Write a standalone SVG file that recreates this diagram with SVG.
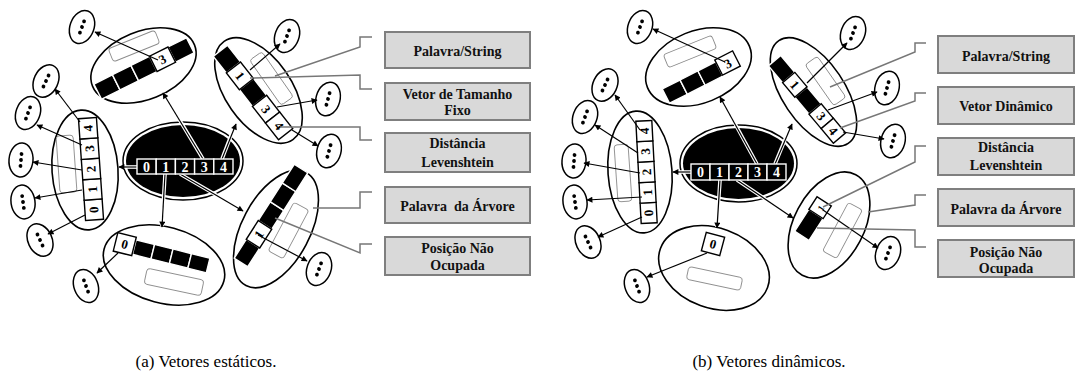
<svg xmlns="http://www.w3.org/2000/svg" xmlns:xlink="http://www.w3.org/1999/xlink" width="1076" height="385" viewBox="0 0 1076 385">
<style>
.ell{fill:#fff;stroke:#000;stroke-width:1.6}
.bk{fill:#000;stroke:#fff;stroke-width:1.4}
.wb{fill:#fff;stroke:#000;stroke-width:1.4}
.gr{fill:#fff;stroke:#8c8c8c;stroke-width:0.9}
.num{font-family:"Liberation Serif",serif;font-weight:bold;font-size:13px;text-anchor:middle}
.cnum{font-family:"Liberation Serif",serif;font-weight:bold;font-size:14px;text-anchor:middle;fill:#fff}
.cn{fill:none;stroke:#000;stroke-width:1.2;marker-end:url(#ah)}
.halo{fill:none;stroke:#fff;stroke-width:3.6}
.call{fill:none;stroke:#777;stroke-width:1.5}
.lab{fill:#d9d9d9;stroke:#7f7f7f;stroke-width:2}
.lt{font-family:"Liberation Serif",serif;font-weight:bold;font-size:14px;text-anchor:middle;fill:#111}
.cap{font-family:"Liberation Serif",serif;font-size:17px;text-anchor:middle;fill:#000}
</style>
<defs>
<marker id="ah" viewBox="0 0 10 10" refX="9" refY="5" markerWidth="7" markerHeight="6" markerUnits="userSpaceOnUse" orient="auto">
<path d="M0,0 L10,5 L0,10 z" fill="#000"/>
</marker>
<g id="dots">
<ellipse cx="0" cy="0" rx="12" ry="17" fill="#fff" stroke="#000" stroke-width="1.5"/>
<circle cx="0" cy="-6" r="1.9" fill="#000"/>
<circle cx="0" cy="0" r="1.9" fill="#000"/>
<circle cx="0" cy="6" r="1.9" fill="#000"/>
</g>
</defs>
<rect width="1076" height="385" fill="#fff"/>

<!-- ================= PANEL A ================= -->
<g id="a-top">
<ellipse class="ell" cx="143.5" cy="65.5" rx="55" ry="34" transform="rotate(-22 143.5 65.5)"/>
<rect class="gr" x="-25" y="-7" width="50" height="14" rx="3" transform="translate(134 46) rotate(-22)"/>
<g transform="translate(144 68.5) rotate(-26.6)">
<rect class="bk" x="-51.75" y="-8.5" width="20.7" height="17"/>
<rect class="bk" x="-31.05" y="-8.5" width="20.7" height="17"/>
<rect class="bk" x="-10.35" y="-8.5" width="20.7" height="17"/>
<rect class="bk" x="31.05" y="-8.5" width="20.7" height="17"/>
<rect class="wb" x="10.35" y="-8.5" width="20.7" height="17"/>
<text class="num" x="20.7" y="4.5">3</text>
</g>
</g>

<g id="a-topright">
<ellipse class="ell" cx="258.5" cy="90.5" rx="60" ry="33" transform="rotate(55 258.5 90.5)"/>
<rect class="gr" x="-27.5" y="-7.5" width="55" height="15" rx="3" transform="translate(271.5 78.5) rotate(55)"/>
<g transform="translate(253 92.5) rotate(52)">
<rect class="bk" x="-53" y="-9" width="21.2" height="18"/>
<rect class="bk" x="-10.6" y="-9" width="21.2" height="18"/>
<rect class="wb" x="-31.8" y="-9" width="21.2" height="18"/>
<rect class="wb" x="10.6" y="-9" width="21.2" height="18"/>
<rect class="wb" x="31.8" y="-9" width="21.2" height="18"/>
<text class="num" x="-21.2" y="4.5">1</text>
<text class="num" x="21.2" y="4.5">3</text>
<text class="num" x="42.4" y="4.5">4</text>
</g>
</g>

<g id="a-left">
<ellipse class="ell" cx="85" cy="170" rx="33" ry="60" transform="rotate(-4 85 170)"/>
<rect class="gr" x="-8.5" y="-28.5" width="17" height="57" rx="3" transform="translate(66.5 164) rotate(-4)"/>
<g transform="translate(91 169) rotate(-94)">
<rect class="wb" x="-51" y="-9" width="20.4" height="18"/>
<rect class="wb" x="-30.6" y="-9" width="20.4" height="18"/>
<rect class="wb" x="-10.2" y="-9" width="20.4" height="18"/>
<rect class="wb" x="10.2" y="-9" width="20.4" height="18"/>
<rect class="wb" x="30.6" y="-9" width="20.4" height="18"/>
<text class="num" x="-40.8" y="4.5">0</text>
<text class="num" x="-20.4" y="4.5">1</text>
<text class="num" x="0" y="4.5">2</text>
<text class="num" x="20.4" y="4.5">3</text>
<text class="num" x="40.8" y="4.5">4</text>
</g>
</g>

<g id="a-bottom">
<ellipse class="ell" cx="164" cy="265" rx="62" ry="38" transform="rotate(15 164 265)"/>
<rect class="gr" x="-29" y="-8" width="58" height="16" rx="3" transform="translate(174 282) rotate(12)"/>
<g transform="translate(162 254) rotate(14)">
<rect class="bk" x="-28.5" y="-7.5" width="19" height="15"/>
<rect class="bk" x="-9.5" y="-7.5" width="19" height="15"/>
<rect class="bk" x="9.5" y="-7.5" width="19" height="15"/>
<rect class="bk" x="28.5" y="-7.5" width="19" height="15"/>
<rect class="wb" x="-48" y="-10" width="19" height="19"/>
<text class="num" x="-38.5" y="4">0</text>
</g>
</g>

<g id="a-bottomright">
<ellipse class="ell" cx="276" cy="229" rx="64" ry="34" transform="rotate(-62 276 229)"/>
<rect class="gr" x="-27.5" y="-8.5" width="55" height="17" rx="3" transform="translate(288.5 230.5) rotate(-62)"/>
<g transform="translate(271 215.5) rotate(-57.4)">
<rect class="bk" x="-55.75" y="-8" width="22.3" height="16"/>
<rect class="bk" x="-11.15" y="-8" width="22.3" height="16"/>
<rect class="bk" x="11.15" y="-8" width="22.3" height="16"/>
<rect class="bk" x="33.45" y="-8" width="22.3" height="16"/>
<rect class="wb" x="-33.45" y="-8" width="22.3" height="16"/>
<text class="num" x="-22.3" y="4.5">1</text>
</g>
</g>

<g id="a-center">
<ellipse cx="183" cy="161" rx="60" ry="39" fill="#fff" stroke="#000" stroke-width="1.5"/>
<ellipse cx="183" cy="161" rx="57" ry="36" fill="#000"/>
</g>

<g id="a-small">
<use xlink:href="#dots" transform="translate(82 27) rotate(20)"/>
<use xlink:href="#dots" transform="translate(46 81) rotate(25)"/>
<use xlink:href="#dots" transform="translate(28 113) rotate(20)"/>
<use xlink:href="#dots" transform="translate(21 160) rotate(5)"/>
<use xlink:href="#dots" transform="translate(23 202) rotate(-8)"/>
<use xlink:href="#dots" transform="translate(40 240) rotate(-25)"/>
<use xlink:href="#dots" transform="translate(86 286) rotate(-20)"/>
<use xlink:href="#dots" transform="translate(287 36) rotate(20)"/>
<use xlink:href="#dots" transform="translate(328 99) rotate(15)"/>
<use xlink:href="#dots" transform="translate(329 151) rotate(15)"/>
<use xlink:href="#dots" transform="translate(319 269) rotate(20)"/>
</g>

<g id="a-connectors">
<line class="halo" x1="137" y1="167" x2="119" y2="167"/>
<line class="halo" x1="165" y1="174" x2="162" y2="226"/>
<line class="halo" x1="180" y1="174" x2="242" y2="210"/>
<line class="halo" x1="203" y1="159" x2="164" y2="94"/>
<line class="halo" x1="222" y1="159" x2="235" y2="125"/>
<line class="cn" x1="137" y1="167" x2="119" y2="167"/>
<line class="cn" x1="165" y1="174" x2="162" y2="227"/>
<line class="cn" x1="180" y1="174" x2="243" y2="211"/>
<line class="cn" x1="203" y1="159" x2="163" y2="93"/>
<line class="cn" x1="222" y1="159" x2="236" y2="124"/>
<line class="cn" x1="158" y1="60" x2="95" y2="32"/>
<line class="cn" x1="80" y1="122" x2="55" y2="89"/>
<line class="cn" x1="82" y1="145" x2="37" y2="125"/>
<line class="cn" x1="82" y1="170" x2="33" y2="162"/>
<line class="cn" x1="82" y1="190" x2="35" y2="198"/>
<line class="cn" x1="85" y1="215" x2="48" y2="234"/>
<line class="cn" x1="118" y1="253" x2="97" y2="273"/>
<line class="cn" x1="250" y1="70" x2="280" y2="44"/>
<line class="cn" x1="277" y1="107" x2="317" y2="100"/>
<line class="cn" x1="292" y1="130" x2="318" y2="146"/>
<line class="cn" x1="258" y1="235" x2="307" y2="261"/>
<polyline class="call" points="275,76 360,47 360,37 372,37"/>
<polyline class="call" points="250,78 360,75 360,89 372,89"/>
<polyline class="call" points="280,127 360,127 360,140 372,140"/>
<polyline class="call" points="313,208 360,208 360,192 372,192"/>
<polyline class="call" points="275,218 360,253 360,244 372,244"/>
</g>

<g id="a-center-array">
<rect class="bk" x="137" y="159" width="19.2" height="15"/>
<rect class="bk" x="156.2" y="159" width="19.2" height="15"/>
<rect class="bk" x="175.4" y="159" width="19.2" height="15"/>
<rect class="bk" x="194.6" y="159" width="19.2" height="15"/>
<rect class="bk" x="213.8" y="159" width="19.2" height="15"/>
<text class="cnum" x="146.6" y="171.5">0</text>
<text class="cnum" x="165.8" y="171.5">1</text>
<text class="cnum" x="185" y="171.5">2</text>
<text class="cnum" x="204.2" y="171.5">3</text>
<text class="cnum" x="223.4" y="171.5">4</text>
</g>

<g id="a-label1"><rect class="lab" x="385" y="32" width="145" height="36"/><text class="lt" x="457.5" y="56">Palavra/String</text></g>
<g id="a-label2"><rect class="lab" x="385" y="83" width="145" height="37"/><text class="lt" x="457.5" y="99">Vetor de Tamanho</text><text class="lt" x="457.5" y="115">Fixo</text></g>
<g id="a-label3"><rect class="lab" x="385" y="133" width="145" height="39"/><text class="lt" x="457.5" y="148">Distância</text><text class="lt" x="457.5" y="167">Levenshtein</text></g>
<g id="a-label4"><rect class="lab" x="385" y="187" width="145" height="36"/><text class="lt" x="457.5" y="211" xml:space="preserve">Palavra  da Árvore</text></g>
<g id="a-label5"><rect class="lab" x="385" y="237" width="145" height="38"/><text class="lt" x="457.5" y="253">Posição Não</text><text class="lt" x="457.5" y="270">Ocupada</text></g>

<!-- ================= PANEL B ================= -->
<g id="b-top">
<ellipse class="ell" cx="698.5" cy="67" rx="55" ry="36" transform="rotate(-22 698.5 67)"/>
<rect class="gr" x="-26" y="-7" width="52" height="14" rx="3" transform="translate(690 51.5) rotate(-22)"/>
<g transform="translate(701.5 78) rotate(-27)">
<rect class="bk" x="-40" y="-8" width="20" height="16"/>
<rect class="bk" x="-20" y="-8" width="20" height="16"/>
<rect class="bk" x="0" y="-8" width="20" height="16"/>
<rect class="wb" x="20" y="-10" width="20" height="17"/>
<text class="num" x="30" y="3.5">3</text>
</g>
</g>

<g id="b-topright">
<ellipse class="ell" cx="813.5" cy="92" rx="62" ry="31" transform="rotate(56 813.5 92)"/>
<rect class="gr" x="-25" y="-7.5" width="50" height="15" rx="3" transform="translate(825.5 81) rotate(55)"/>
<g transform="translate(808 100.5) rotate(50)">
<rect class="bk" x="-52" y="-8" width="22" height="16"/>
<rect class="bk" x="-11" y="-8" width="22" height="16"/>
<rect class="wb" x="-30" y="-8" width="19" height="16"/>
<rect class="wb" x="11" y="-8" width="19" height="16"/>
<rect class="wb" x="30" y="-8" width="19" height="16"/>
<text class="num" x="-20.5" y="4.5">1</text>
<text class="num" x="20.5" y="4.5">3</text>
<text class="num" x="39.5" y="4.5">4</text>
</g>
</g>

<g id="b-left">
<ellipse class="ell" cx="640" cy="172" rx="32" ry="61" transform="rotate(-4 640 172)"/>
<rect class="gr" x="-7" y="-28.5" width="14" height="57" rx="3" transform="translate(623 173) rotate(-4)"/>
<g transform="translate(646.5 172) rotate(-93)">
<rect class="wb" x="-51.25" y="-8" width="20.5" height="16"/>
<rect class="wb" x="-30.75" y="-8" width="20.5" height="16"/>
<rect class="wb" x="-10.25" y="-8" width="20.5" height="16"/>
<rect class="wb" x="10.25" y="-8" width="20.5" height="16"/>
<rect class="wb" x="30.75" y="-8" width="20.5" height="16"/>
<text class="num" x="-41" y="4.5">0</text>
<text class="num" x="-20.5" y="4.5">1</text>
<text class="num" x="0" y="4.5">2</text>
<text class="num" x="20.5" y="4.5">3</text>
<text class="num" x="41" y="4.5">4</text>
</g>
</g>

<g id="b-bottom">
<ellipse class="ell" cx="714" cy="268" rx="57" ry="40" transform="rotate(20 714 268)"/>
<rect class="gr" x="-27.5" y="-6.5" width="55" height="13" rx="3" transform="translate(714.5 278.5) rotate(12)"/>
<g transform="translate(713 244) rotate(15)">
<rect class="wb" x="-9.5" y="-9.5" width="19" height="19"/>
<text class="num" x="0" y="4.5">0</text>
</g>
</g>

<g id="b-bottomright">
<ellipse class="ell" cx="829" cy="225" rx="57" ry="35" transform="rotate(-62 829 225)"/>
<rect class="gr" x="-27.5" y="-8" width="55" height="16" rx="3" transform="translate(842.5 230.5) rotate(-62)"/>
<g transform="translate(816 214) rotate(-57)">
<rect class="bk" x="-26" y="-8.5" width="26" height="17"/>
<rect class="wb" x="0" y="-8.5" width="15" height="17"/>
<text class="num" x="7.5" y="4" style="font-size:9px">1</text>
</g>
</g>

<g id="b-center">
<ellipse cx="738.5" cy="163.5" rx="58.5" ry="38.5" fill="#fff" stroke="#000" stroke-width="1.5"/>
<ellipse cx="738.5" cy="163.5" rx="55.5" ry="35.5" fill="#000"/>
</g>

<g id="b-small">
<use xlink:href="#dots" transform="translate(640 27) rotate(20)"/>
<use xlink:href="#dots" transform="translate(605 85) rotate(25)"/>
<use xlink:href="#dots" transform="translate(585 117) rotate(20)"/>
<use xlink:href="#dots" transform="translate(574 161) rotate(5)"/>
<use xlink:href="#dots" transform="translate(575 202) rotate(-8)"/>
<use xlink:href="#dots" transform="translate(588 242) rotate(-25)"/>
<use xlink:href="#dots" transform="translate(637 286) rotate(-20)"/>
<use xlink:href="#dots" transform="translate(853 33) rotate(20)"/>
<use xlink:href="#dots" transform="translate(887 88) rotate(15)"/>
<use xlink:href="#dots" transform="translate(893 141) rotate(15)"/>
<use xlink:href="#dots" transform="translate(888 253) rotate(20)"/>
</g>

<g id="b-connectors">
<line class="halo" x1="691" y1="172" x2="674" y2="172"/>
<line class="halo" x1="720" y1="180" x2="717" y2="227"/>
<line class="halo" x1="737" y1="180" x2="792" y2="217"/>
<line class="halo" x1="757" y1="164" x2="721" y2="98"/>
<line class="halo" x1="775" y1="164" x2="791" y2="125"/>
<line class="cn" x1="691" y1="172" x2="673" y2="172"/>
<line class="cn" x1="720" y1="180" x2="717" y2="228"/>
<line class="cn" x1="737" y1="180" x2="793" y2="218"/>
<line class="cn" x1="757" y1="164" x2="720" y2="97"/>
<line class="cn" x1="775" y1="164" x2="792" y2="124"/>
<line class="cn" x1="725" y1="62" x2="653" y2="29"/>
<line class="cn" x1="640" y1="130" x2="615" y2="95"/>
<line class="cn" x1="638" y1="153" x2="595" y2="125"/>
<line class="cn" x1="640" y1="173" x2="584" y2="163"/>
<line class="cn" x1="642" y1="197" x2="587" y2="200"/>
<line class="cn" x1="642" y1="217" x2="598" y2="237"/>
<line class="cn" x1="707" y1="253" x2="647" y2="277"/>
<line class="cn" x1="807" y1="83" x2="847" y2="43"/>
<line class="cn" x1="828" y1="110" x2="877" y2="92"/>
<line class="cn" x1="843" y1="132" x2="884" y2="139"/>
<line class="cn" x1="823" y1="210" x2="878" y2="248"/>
<polyline class="call" points="830,87 915,52 915,43 926,43"/>
<polyline class="call" points="840,128 915,101 915,93 926,93"/>
<polyline class="call" points="823,207 915,162 915,146 926,146"/>
<polyline class="call" points="868,212 915,205 915,195 926,195"/>
<polyline class="call" points="817,228 915,230 915,247 926,247"/>
</g>

<g id="b-center-array">
<rect class="bk" x="691" y="164" width="19" height="16"/>
<rect class="bk" x="710" y="164" width="19" height="16"/>
<rect class="bk" x="729" y="164" width="19" height="16"/>
<rect class="bk" x="748" y="164" width="19" height="16"/>
<rect class="bk" x="767" y="164" width="19" height="16"/>
<text class="cnum" x="700.5" y="177">0</text>
<text class="cnum" x="719.5" y="177">1</text>
<text class="cnum" x="738.5" y="177">2</text>
<text class="cnum" x="757.5" y="177">3</text>
<text class="cnum" x="776.5" y="177">4</text>
</g>

<g id="b-label1"><rect class="lab" x="938" y="36" width="136" height="37"/><text class="lt" x="1006" y="61">Palavra/String</text></g>
<g id="b-label2"><rect class="lab" x="938" y="87" width="136" height="37"/><text class="lt" x="1006" y="111">Vetor Dinâmico</text></g>
<g id="b-label3"><rect class="lab" x="938" y="138" width="136" height="37"/><text class="lt" x="1006" y="152">Distância</text><text class="lt" x="1006" y="170">Levenshtein</text></g>
<g id="b-label4"><rect class="lab" x="938" y="189" width="136" height="37"/><text class="lt" x="1006" y="214">Palavra da Árvore</text></g>
<g id="b-label5"><rect class="lab" x="938" y="240" width="136" height="37"/><text class="lt" x="1006" y="257">Posição Não</text><text class="lt" x="1006" y="273">Ocupada</text></g>

<g id="captions">
<text class="cap" x="206" y="367">(a) Vetores estáticos.</text>
<text class="cap" x="769" y="367">(b) Vetores dinâmicos.</text>
</g>
</svg>
